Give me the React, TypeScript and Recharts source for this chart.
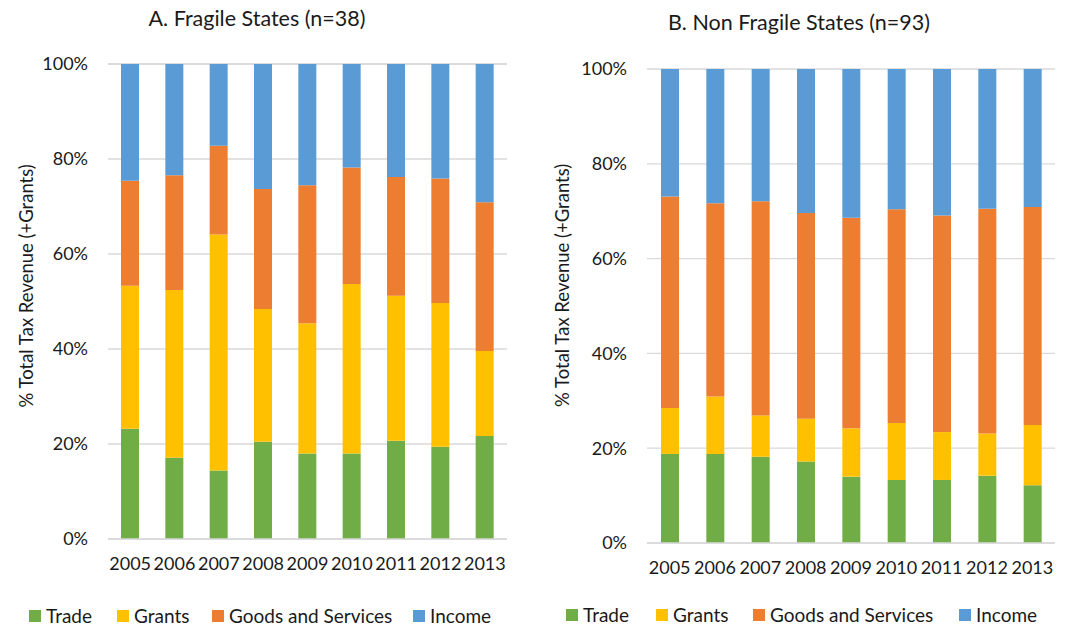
import { BarChart, Bar, XAxis, YAxis, CartesianGrid } from "recharts";

const years = ["2005", "2006", "2007", "2008", "2009", "2010", "2011", "2012", "2013"];
const pctTicks = [0, 20, 40, 60, 80, 100];

// shares of total tax revenue (+grants), in percent
const fragileTrade = [23.2, 17.1, 14.4, 20.5, 18.0, 18.0, 20.7, 19.4, 21.7];
const fragileGrants = [30.1, 35.3, 49.7, 27.9, 27.4, 35.7, 30.5, 30.3, 17.9];
const fragileGoods = [22.1, 24.2, 18.7, 25.3, 29.1, 24.5, 25.0, 26.2, 31.3];
const fragileIncome = [24.6, 23.4, 17.2, 26.3, 25.5, 21.8, 23.8, 24.1, 29.1];

const nonFragileTrade = [18.8, 18.8, 18.2, 17.2, 14.0, 13.3, 13.3, 14.2, 12.2];
const nonFragileGrants = [9.7, 12.1, 8.7, 9.0, 10.2, 12.0, 10.1, 8.9, 12.7];
const nonFragileGoods = [44.6, 40.8, 45.2, 43.4, 44.4, 45.1, 45.7, 47.4, 46.0];
const nonFragileIncome = [26.9, 28.3, 27.9, 30.4, 31.4, 29.6, 30.9, 29.5, 29.1];

const series = [
  { key: "trade", name: "Trade", color: "#70ad47" },
  { key: "grants", name: "Grants", color: "#ffc000" },
  { key: "goods", name: "Goods and Services", color: "#ed7d31" },
  { key: "income", name: "Income", color: "#5b9bd5" },
];

const FONT = "Lato, 'Open Sans', sans-serif";
const TEXT = "#1a1a1a";

function buildRows(trade: number[], grants: number[], goods: number[], income: number[]) {
  return years.map((year, i) => ({
    year,
    trade: trade[i],
    grants: grants[i],
    goods: goods[i],
    income: income[i],
  }));
}

const fragileRows = buildRows(fragileTrade, fragileGrants, fragileGoods, fragileIncome);
const nonFragileRows = buildRows(nonFragileTrade, nonFragileGrants, nonFragileGoods, nonFragileIncome);

type PanelProps = {
  title: string;
  rows: ReturnType<typeof buildRows>;
  left: number;
  width: number;
  margin: { top: number; right: number; bottom: number; left: number };
  titleTop: number;
  titleCenter: number;
  labelDx: number;
  labelDy: number;
  legendTop: number;
  legendX: number[];
};

function Panel(p: PanelProps) {
  return (
    <div style={{ position: "absolute", left: p.left, top: 0, width: p.width, height: 627 }}>
      <div
        style={{
          position: "absolute",
          top: p.titleTop,
          left: p.titleCenter - 200,
          width: 400,
          textAlign: "center",
          fontSize: 21.5,
          lineHeight: "24px",
          color: TEXT,
        }}
      >
        {p.title}
      </div>
      <BarChart width={p.width} height={627} data={p.rows} margin={p.margin} barSize={18}>
        <CartesianGrid vertical={false} stroke="#d9d9d9" strokeWidth={1.3} />
        <XAxis
          dataKey="year"
          axisLine={{ stroke: "#d9d9d9", strokeWidth: 1.3 }}
          tickLine={false}
          height={40}
          interval={0}
          tickMargin={12}
          tick={{ fill: TEXT, fontSize: 18, fontFamily: FONT }}
        />
        <YAxis
          domain={[0, 100]}
          ticks={pctTicks}
          tickFormatter={(v: number) => `${v}%`}
          axisLine={false}
          tickLine={false}
          width={68}
          tickMargin={14}
          tick={{ fill: TEXT, fontSize: 18, fontFamily: FONT }}
          label={{
            value: "% Total Tax Revenue (+Grants)",
            angle: -90,
            position: "insideLeft",
            dx: p.labelDx,
            dy: p.labelDy,
            style: { fill: TEXT, fontSize: 18.5, fontFamily: FONT },
          }}
        />
        {series.map((s) => (
          <Bar key={s.key} dataKey={s.key} name={s.name} stackId="share" fill={s.color} isAnimationActive={false} />
        ))}
      </BarChart>
      {series.map((s, i) => (
        <div
          key={s.key}
          style={{
            position: "absolute",
            top: p.legendTop,
            left: p.legendX[i] - p.left,
            display: "flex",
            alignItems: "center",
            fontSize: 19,
            lineHeight: "19px",
            color: TEXT,
            whiteSpace: "nowrap",
          }}
        >
          <span style={{ display: "inline-block", width: 12, height: 12, background: s.color, marginRight: 5 }} />
          {s.name}
        </div>
      ))}
    </div>
  );
}

export default function App() {
  return (
    <div
      style={{
        position: "absolute",
        left: 0,
        top: 0,
        width: 1067,
        height: 627,
        background: "#fff",
        fontFamily: FONT,
        overflow: "hidden",
      }}
    >
      <Panel
        title="A. Fragile States (n=38)"
        rows={fragileRows}
        left={0}
        width={535}
        margin={{ top: 64, right: 28, bottom: 48, left: 40 }}
        titleTop={6}
        titleCenter={257}
        labelDx={-19}
        labelDy={106}
        legendTop={606}
        legendX={[29, 117, 212, 413]}
      />
      <Panel
        title="B. Non Fragile States (n=93)"
        rows={nonFragileRows}
        left={535}
        width={532}
        margin={{ top: 69, right: 12, bottom: 44, left: 44 }}
        titleTop={10}
        titleCenter={799 - 535}
        labelDx={-22}
        labelDy={101}
        legendTop={605}
        legendX={[566, 656, 753, 959]}
      />
    </div>
  );
}
